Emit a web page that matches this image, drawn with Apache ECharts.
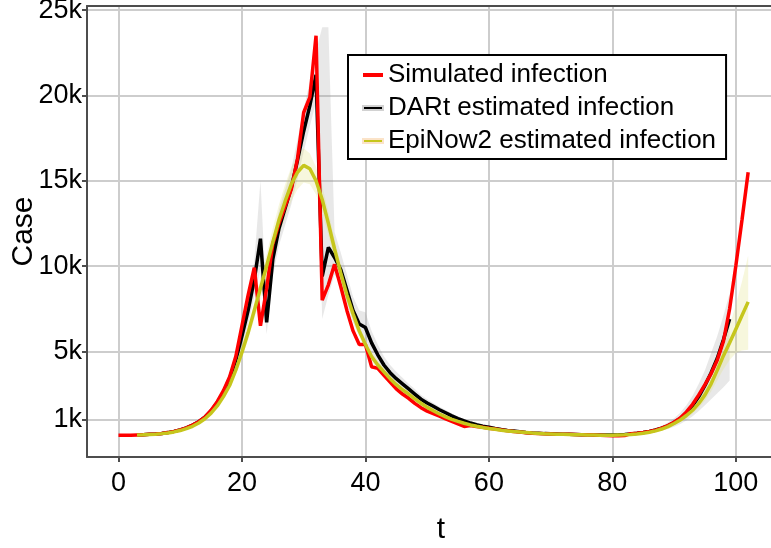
<!DOCTYPE html>
<html>
<head>
<meta charset="utf-8">
<script src="https://cdn.jsdelivr.net/npm/echarts@6/dist/echarts.min.js"></script>
<style>
  html, body { margin: 0; padding: 0; background: #fff; }
  #chart { width: 771px; height: 548px; }
</style>
</head>
<body>
<div id="chart"></div>
<script>
// values in thousands of cases, one per day
const simStart = 0
const simulated = [
  0.08, 0.08, 0.08, 0.10, 0.12, 0.14, 0.16, 0.19, 0.24, 0.31,
  0.40, 0.52, 0.68, 0.88, 1.15, 1.55, 2.05, 2.7, 3.5, 4.7,
  6.5, 8.3, 9.9, 6.5, 8.7, 11.3, 12.5, 13.5, 14.5, 16.3,
  19.0, 19.9, 23.5, 8.0, 8.9, 10.1, 8.8, 7.4, 6.2, 5.4,
  5.4, 4.1, 4.0, 3.6, 3.2, 2.8, 2.5, 2.25, 1.95, 1.7,
  1.5, 1.35, 1.2, 1.05, 0.9, 0.75, 0.6, 0.66, 0.6, 0.55,
  0.5, 0.45, 0.4, 0.35, 0.31, 0.27, 0.23, 0.2, 0.18, 0.17,
  0.16, 0.15, 0.15, 0.14, 0.13, 0.12, 0.11, 0.1, 0.09, 0.07,
  0.06, 0.06, 0.07, 0.18, 0.2, 0.24, 0.3, 0.38, 0.5, 0.65,
  0.85, 1.1, 1.45, 1.9, 2.45, 3.05, 3.7, 4.5, 5.6, 7.5,
  10.0, 12.7, 15.5
]

const dartStart = 3
const dart = [
  0.10, 0.12, 0.14, 0.16, 0.19, 0.24, 0.31,
  0.40, 0.52, 0.68, 0.88, 1.15, 1.5, 2.0, 2.6, 3.4, 4.5,
  5.9, 7.4, 9.2, 11.6, 6.7, 10.4, 12.2, 13.4, 14.6, 16.2,
  17.9, 19.4, 21.2, 9.4, 11.1, 10.5, 9.8, 8.6, 7.4, 6.6,
  6.4, 5.5, 4.8, 4.2, 3.75, 3.4, 3.1, 2.8, 2.5, 2.2,
  1.98, 1.78, 1.58, 1.4, 1.22, 1.06, 0.92, 0.8, 0.7, 0.62,
  0.55, 0.48, 0.42, 0.37, 0.33, 0.29, 0.25, 0.22, 0.2, 0.18,
  0.17, 0.16, 0.15, 0.14, 0.13, 0.12, 0.11, 0.1, 0.1, 0.1,
  0.1, 0.11, 0.13, 0.16, 0.2, 0.25, 0.31, 0.39, 0.5, 0.64,
  0.83, 1.07, 1.4, 1.82, 2.35, 3.0, 3.75, 4.6, 5.7, 6.9
]
const dartLow = [
  0.09, 0.11, 0.13, 0.14, 0.17, 0.21, 0.27,
  0.35, 0.46, 0.6, 0.78, 1.0, 1.3, 1.75, 2.3, 3.0, 4.0,
  5.2, 6.6, 8.2, 9.8, 6.0, 9.4, 11.2, 12.4, 13.6, 15.1,
  16.7, 18.2, 19.6, 6.9, 8.3, 9.5, 8.9, 7.8, 6.7, 5.9,
  5.7, 4.9, 4.3, 3.75, 3.35, 3.0, 2.75, 2.5, 2.22, 1.96,
  1.76, 1.58, 1.4, 1.24, 1.08, 0.94, 0.82, 0.71, 0.62, 0.55,
  0.49, 0.43, 0.37, 0.33, 0.29, 0.26, 0.22, 0.19, 0.17, 0.16,
  0.15, 0.14, 0.13, 0.12, 0.11, 0.1, 0.09, 0.08, 0.08, 0.08,
  0.08, 0.09, 0.1, 0.12, 0.15, 0.19, 0.23, 0.28, 0.36, 0.45,
  0.58, 0.74, 0.95, 1.2, 1.5, 1.85, 2.2, 2.55, 2.9, 3.3
]
const dartHigh = [
  0.11, 0.13, 0.15, 0.18, 0.21, 0.27, 0.35,
  0.45, 0.58, 0.76, 0.98, 1.3, 1.7, 2.25, 2.9, 3.8, 5.0,
  6.6, 8.3, 10.3, 15.0, 7.6, 11.5, 13.3, 14.5, 15.7, 17.4,
  19.2, 20.8, 22.6, 24.0, 24.0, 12.0, 10.8, 9.5, 8.2, 7.4,
  7.3, 6.2, 5.4, 4.7, 4.2, 3.8, 3.45, 3.1, 2.8, 2.45,
  2.2, 1.98, 1.76, 1.56, 1.36, 1.18, 1.02, 0.89, 0.78, 0.69,
  0.61, 0.53, 0.47, 0.41, 0.37, 0.32, 0.28, 0.25, 0.23, 0.2,
  0.19, 0.18, 0.17, 0.16, 0.15, 0.14, 0.13, 0.12, 0.12, 0.12,
  0.12, 0.13, 0.16, 0.2, 0.25, 0.31, 0.39, 0.5, 0.64, 0.83,
  1.08, 1.4, 1.85, 2.4, 3.1, 3.9, 4.9, 5.9, 7.1, 8.4
]

const epiStart = 3
const epinow = [
  0.10, 0.11, 0.13, 0.15, 0.18, 0.22, 0.28,
  0.36, 0.47, 0.61, 0.8, 1.05, 1.38, 1.8, 2.35, 3.0, 3.9,
  4.95, 6.1, 7.4, 8.7, 10.0, 11.4, 12.7, 13.8, 14.8, 15.5,
  15.9, 15.7, 15.0, 13.9, 12.5, 11.0, 9.6, 8.3, 7.2, 6.2,
  5.4, 4.7, 4.2, 3.8, 3.4, 3.05, 2.75, 2.5, 2.22, 1.96,
  1.72, 1.52, 1.33, 1.16, 1.02, 0.9, 0.79, 0.69, 0.61, 0.54,
  0.48, 0.43, 0.38, 0.34, 0.3, 0.27, 0.24, 0.21, 0.19, 0.17,
  0.16, 0.15, 0.14, 0.13, 0.12, 0.11, 0.1, 0.1, 0.09, 0.09,
  0.09, 0.1, 0.11, 0.13, 0.16, 0.2, 0.26, 0.34, 0.45, 0.59,
  0.77, 0.98, 1.24, 1.55, 1.95, 2.45, 3.1, 3.9, 4.75, 5.5,
  6.3, 7.1, 7.9
]
const epiLow = [
  0.09, 0.1, 0.12, 0.14, 0.17, 0.2, 0.26,
  0.33, 0.44, 0.57, 0.75, 0.98, 1.29, 1.68, 2.2, 2.8, 3.65,
  4.6, 5.7, 6.9, 8.1, 9.3, 10.6, 11.8, 12.8, 13.8, 14.5,
  14.9, 14.8, 14.2, 13.1, 11.8, 10.4, 9.1, 7.9, 6.8, 5.9,
  5.1, 4.45, 3.95, 3.55, 3.2, 2.85, 2.57, 2.33, 2.07, 1.83,
  1.6, 1.41, 1.24, 1.08, 0.95, 0.84, 0.73, 0.64, 0.57, 0.5,
  0.45, 0.4, 0.35, 0.31, 0.28, 0.25, 0.22, 0.19, 0.17, 0.16,
  0.15, 0.14, 0.13, 0.12, 0.11, 0.1, 0.09, 0.09, 0.08, 0.08,
  0.08, 0.09, 0.1, 0.12, 0.14, 0.18, 0.23, 0.3, 0.4, 0.52,
  0.68, 0.86, 1.08, 1.35, 1.7, 2.1, 2.65, 3.3, 3.95, 4.5,
  4.9, 5.05, 5.1
]
const epiHigh = [
  0.11, 0.12, 0.14, 0.16, 0.19, 0.24, 0.3,
  0.39, 0.5, 0.65, 0.85, 1.12, 1.47, 1.92, 2.5, 3.2, 4.15,
  5.3, 6.5, 7.9, 9.3, 10.7, 12.2, 13.6, 14.8, 15.8, 16.5,
  16.9, 16.6, 15.8, 14.7, 13.2, 11.6, 10.1, 8.7, 7.6, 6.5,
  5.7, 4.95, 4.45, 4.05, 3.6, 3.25, 2.93, 2.67, 2.37, 2.09,
  1.84, 1.63, 1.42, 1.24, 1.09, 0.96, 0.85, 0.74, 0.65, 0.58,
  0.51, 0.46, 0.41, 0.37, 0.32, 0.29, 0.26, 0.23, 0.21, 0.18,
  0.17, 0.16, 0.15, 0.14, 0.13, 0.12, 0.11, 0.11, 0.1, 0.1,
  0.1, 0.11, 0.12, 0.14, 0.18, 0.22, 0.29, 0.38, 0.5, 0.66,
  0.86, 1.1, 1.4, 1.75, 2.2, 2.8, 3.55, 4.5, 5.5, 6.5,
  7.7, 9.1, 10.6
]

const xTicks = [0, 20, 40, 60, 80, 100]
const yTicks = [1, 5, 10, 15, 20, 25]

const font = 'Liberation Sans, Arial, sans-serif'

function pairs(start, values) {
  return values.map((v, i) => [start + i, v])
}

function ribbon(start, low, high, color) {
  return {
    type: 'custom',
    silent: true,
    z: 1,
    data: [[start, low[0]]],
    renderItem: function (params, api) {
      const pts = []
      for (let i = 0; i < high.length; i++) pts.push(api.coord([start + i, high[i]]))
      for (let i = low.length - 1; i >= 0; i--) pts.push(api.coord([start + i, low[i]]))
      return { type: 'polygon', shape: { points: pts }, style: { fill: color } }
    }
  }
}

const chart = echarts.init(document.getElementById('chart'))
const option = {
  animation: false,
  grid: { left: 87, right: 0, top: 6, bottom: 91, outerBoundsMode: 'none' },
  legend: {
    orient: 'vertical',
    left: 348,
    top: 55,
    padding: [7, 10, 5, 14],
    itemGap: 7,
    itemWidth: 20,
    itemHeight: 4,
    selectedMode: false,
    borderColor: '#000',
    borderWidth: 2,
    borderRadius: 0,
    backgroundColor: '#fff',
    textStyle: { fontSize: 26, color: '#000', fontFamily: font },
    data: [
      { name: 'Simulated infection', icon: 'rect' },
      { name: 'DARt estimated infection', icon: 'rect', itemStyle: { borderColor: '#d2d2d2', borderWidth: 2 } },
      { name: 'EpiNow2 estimated infection', icon: 'rect', itemStyle: { borderColor: '#fbe3c8', borderWidth: 2 } }
    ]
  },
  xAxis: [
    {
      type: 'value',
      min: -5.1,
      max: 105.7,
      name: 't',
      nameLocation: 'middle',
      nameGap: 58,
      nameMoveOverlap: false,
      nameTextStyle: { fontSize: 30, color: '#000', fontFamily: font, padding: [0, 0, 0, 24] },
      axisLine: { onZero: false, lineStyle: { color: '#4d4d4d', width: 2 } },
      axisTick: { customValues: xTicks, length: 5, lineStyle: { color: '#4d4d4d', width: 2 } },
      axisLabel: { customValues: xTicks, margin: 13, fontSize: 27, color: '#000', fontFamily: font },
      splitLine: { lineStyle: { color: '#cdcdcd', width: 2 } }
    },
    {
      type: 'value',
      position: 'top',
      min: -5.1,
      max: 105.7,
      axisLine: { onZero: false, lineStyle: { color: '#4d4d4d', width: 2 } },
      axisTick: { show: false },
      axisLabel: { show: false },
      splitLine: { show: false }
    }
  ],
  yAxis: {
    type: 'value',
    min: -1.19,
    max: 25.24,
    name: 'Case',
    nameLocation: 'middle',
    nameGap: 48,
    nameRotate: 90,
    nameMoveOverlap: false,
    nameTextStyle: { fontSize: 30, color: '#000', fontFamily: font },
    axisLine: { show: true, onZero: false, lineStyle: { color: '#4d4d4d', width: 2 } },
    axisTick: { show: true, customValues: yTicks, length: 5, lineStyle: { color: '#4d4d4d', width: 2 } },
    axisLabel: { customValues: yTicks, margin: 5, fontSize: 27, color: '#000', fontFamily: font, formatter: v => v + 'k' },
    splitLine: { lineStyle: { color: '#cdcdcd', width: 2 } }
  },
  series: [
    ribbon(dartStart, dartLow, dartHigh, 'rgba(150,150,150,0.22)'),
    ribbon(epiStart, epiLow, epiHigh, 'rgba(225,225,120,0.25)'),
    {
      name: 'DARt estimated infection',
      type: 'line',
      z: 3,
      showSymbol: false,
      color: '#000000',
      lineStyle: { width: 3.5 },
      data: pairs(dartStart, dart)
    },
    {
      name: 'Simulated infection',
      type: 'line',
      z: 4,
      showSymbol: false,
      color: '#ff0000',
      lineStyle: { width: 3.5 },
      data: pairs(simStart, simulated)
    },
    {
      name: 'EpiNow2 estimated infection',
      type: 'line',
      z: 5,
      showSymbol: false,
      color: '#c6c61c',
      lineStyle: { width: 3.5 },
      data: pairs(epiStart, epinow)
    }
  ]
}
chart.setOption(option)
</script>
</body>
</html>
